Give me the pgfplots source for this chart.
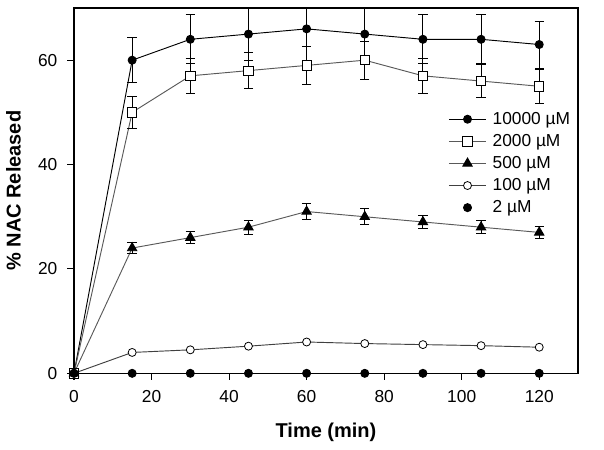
\documentclass[border=0pt]{standalone}
\usepackage{pgfplots}
\pgfplotsset{compat=1.18}
\usepackage{fontspec}
\setmainfont{Liberation Sans}
\begin{document}
\begin{tikzpicture}
\begin{axis}[
  scale only axis, width=378pt, height=274pt,
  xmin=0, xmax=130, ymin=0, ymax=70,
  xtick={0,20,...,120}, ytick={0,20,40,60},
  tick align=outside, major tick length=5pt,
  xtick pos=bottom, ytick pos=left,
  axis line style={line width=0.8pt}, tick style={line width=0.8pt, black},
  ticklabel style={font=\fontsize{13}{15}\selectfont},
  xticklabel style={yshift=-4pt},
  yticklabel style={xshift=-4pt},
  /pgf/number format/assume math mode=true,
  xlabel={\bfseries Time (min)}, ylabel={\bfseries \% NAC Released},
  label style={font=\fontsize{15}{17}\selectfont},
  xlabel style={yshift=-9pt}, ylabel style={yshift=6pt},
  legend style={at={(axis cs:96.5,50.6)}, anchor=north west, draw=none, fill=none,
    inner sep=0pt, font=\fontsize{13}{15}\selectfont, row sep=2pt, column sep=2.5pt,
    nodes={inner sep=2pt}},
  legend cell align=left,
  legend image code/.code={\draw[mark repeat=2,mark phase=2,#1] plot coordinates {(0pt,0pt) (14pt,0pt) (28pt,0pt)};},
  every axis plot/.append style={line width=0.7pt},
  error bars/error bar style={line width=0.7pt, black},
  error bars/error mark options={rotate=90, mark size=3.5pt, line width=0.7pt, black},
]
\addplot[black, mark=*, mark size=3pt, mark options={fill=black},
  error bars/.cd, y dir=both, y explicit]
  coordinates {(0,0) +- (0,0) (15,60) +- (0,4.3) (30,64) +- (0,4.7) (45,65) +- (0,5) (60,66) +- (0,6) (75,65) +- (0,5) (90,64) +- (0,4.7) (105,64) +- (0,4.7) (120,63) +- (0,4.5)};
\addlegendentry{10000 µM}
\addplot[black!65, mark=square*, mark size=3.5pt, mark options={fill=white, draw=black, line width=0.6pt},
  error bars/.cd, y dir=both, y explicit]
  coordinates {(0,0) +- (0,0) (15,50) +- (0,3) (30,57) +- (0,3.3) (45,58) +- (0,3.5) (60,59) +- (0,3.6) (75,60) +- (0,3.6) (90,57) +- (0,3.3) (105,56) +- (0,3.2) (120,55) +- (0,3.3)};
\addlegendentry{2000 µM}
\addplot[black!65, mark=triangle*, mark size=4pt, mark options={fill=black, draw=black},
  error bars/.cd, y dir=both, y explicit]
  coordinates {(0,0) +- (0,0) (15,24) +- (0,1) (30,26) +- (0,1.2) (45,28) +- (0,1.3) (60,31) +- (0,1.5) (75,30) +- (0,1.5) (90,29) +- (0,1.3) (105,28) +- (0,1.2) (120,27) +- (0,1.2)};
\addlegendentry{500 µM}
\addplot[black!75, mark=*, mark size=3pt, mark options={fill=white, draw=black, line width=0.6pt}]
  coordinates {(0,0) (15,4) (30,4.5) (45,5.2) (60,6) (75,5.7) (90,5.5) (105,5.3) (120,5)};
\addlegendentry{100 µM}
\addplot[only marks, black, mark=*, mark size=3pt, mark options={fill=black}]
  coordinates {(0,0) (15,0) (30,0) (45,0) (60,0) (75,0) (90,0) (105,0) (120,0)};
\addlegendentry{2 µM}
\end{axis}
\pgfresetboundingbox
\path (current axis.south west) ++(-55.5pt,-57pt) coordinate (bl);
\path (current axis.north east) ++(19.5pt,6pt) coordinate (tr);
\path (bl) rectangle (tr);
\end{tikzpicture}
\end{document}
